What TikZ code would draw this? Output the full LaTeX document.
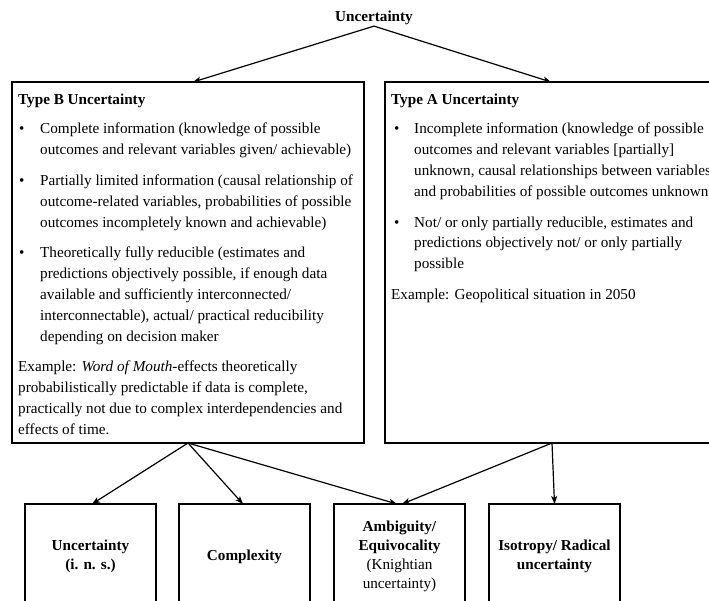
\documentclass[tikz,border=0pt]{standalone}
\usepackage{fontspec}
\setmainfont{Liberation Serif}
\usetikzlibrary{arrows.meta}
\newcommand\txtlines[1]{\vtop{\baselineskip=20.8pt\lineskiplimit=-20pt\halign{##\hfil\cr#1\crcr}}}
\begin{document}
\begin{tikzpicture}[x=1pt,y=-1pt,
  frame/.style={draw, line width=1.3pt, inner sep=0pt, outer sep=0pt, anchor=north west},
  txt/.style={anchor=base west, inner sep=0pt, font=\fontsize{15.2}{20.8}\selectfont},
  hd/.style={anchor=base west, inner sep=0pt, font=\fontsize{15.2}{20.8}\selectfont\bfseries},
  leaf/.style={frame, minimum width=131pt, minimum height=105pt, align=center, font=\fontsize{15.2}{19}\selectfont},
  arr/.style={line width=1.2pt, -{Stealth[length=8pt,width=6pt,inset=2pt]}}]
\useasboundingbox (0,0) rectangle (709,600);
\clip (0,0) rectangle (709,600);

\node[inner sep=1pt, font=\fontsize{15.2}{20.8}\selectfont\bfseries] (top) at (374,18) {Uncertainty};

\node[frame, minimum width=352pt, minimum height=361pt] (boxB) at (12,82) {};
\node[frame, minimum width=334pt, minimum height=361pt] (boxA) at (385,82) {};

% Type B
\node[hd] (hB) at (18,104) {Type B Uncertainty};
\node[txt] (dB1) at (19,133.8) {•};
\node[txt] (pB1) at (40,133.8) {\txtlines{Complete information (knowledge of possible\cr outcomes and relevant variables given/ achievable)}};
\node[txt] (dB2) at (19,185.4) {•};
\node[txt] (pB2) at (40,185.4) {\txtlines{Partially limited information (causal relationship of\cr outcome-related variables, probabilities of possible\cr outcomes incompletely known and achievable)}};
\node[txt] (dB3) at (19,257.8) {•};
\node[txt] (pB3) at (40,257.8) {\txtlines{Theoretically fully reducible (estimates and\cr predictions objectively possible, if enough data\cr available and sufficiently interconnected/\cr interconnectable), actual/ practical reducibility\cr depending on decision maker}};
\node[txt] (eB) at (18,371.8) {\txtlines{Example: \textit{Word of Mouth}-effects theoretically\cr probabilistically predictable if data is complete,\cr practically not due to complex interdependencies and\cr effects of time.}};

% Type A
\node[hd] (hA) at (391,104) {Type A Uncertainty};
\node[txt] (dA1) at (394,133.8) {•};
\node[txt] (pA1) at (414,133.8) {\txtlines{Incomplete information (knowledge of possible\cr outcomes and relevant variables [partially]\cr unknown, causal relationships between variables\cr and probabilities of possible outcomes unknown)}};
\node[txt] (dA2) at (394,227) {•};
\node[txt] (pA2) at (414,227) {\txtlines{Not/ or only partially reducible, estimates and\cr predictions objectively not/ or only partially\cr possible}};
\node[txt] (eA) at (391,299.4) {Example: Geopolitical situation in 2050};

% leaves
\node[leaf] (leaf1) at (25,504) {\textbf{Uncertainty}\\\textbf{(i. n. s.)}};
\node[leaf] (leaf2) at (179,504) {\textbf{Complexity}};
\node[leaf] (leaf3) at (334,504) {\textbf{Ambiguity/}\\\textbf{Equivocality}\\(Knightian\\uncertainty)};
\node[leaf] (leaf4) at (489,504) {\textbf{Isotropy/ Radical}\\\textbf{uncertainty}};

% connectors
\draw[arr] (top.south) -- ([xshift=5pt]boxB.north);
\draw[arr] (top.south) -- ([xshift=-1pt]boxA.north);
\draw[arr] (boxB.south) -- ([xshift=1.5pt]leaf1.north);
\draw[arr] (boxB.south) -- ([xshift=-1.5pt]leaf2.north);
\draw[arr] (boxB.south) -- ([xshift=-2.5pt]leaf3.north);
\draw[arr] (boxA.south) -- ([xshift=2.5pt]leaf3.north);
\draw[arr] (boxA.south) -- (leaf4.north);
\end{tikzpicture}
\end{document}
